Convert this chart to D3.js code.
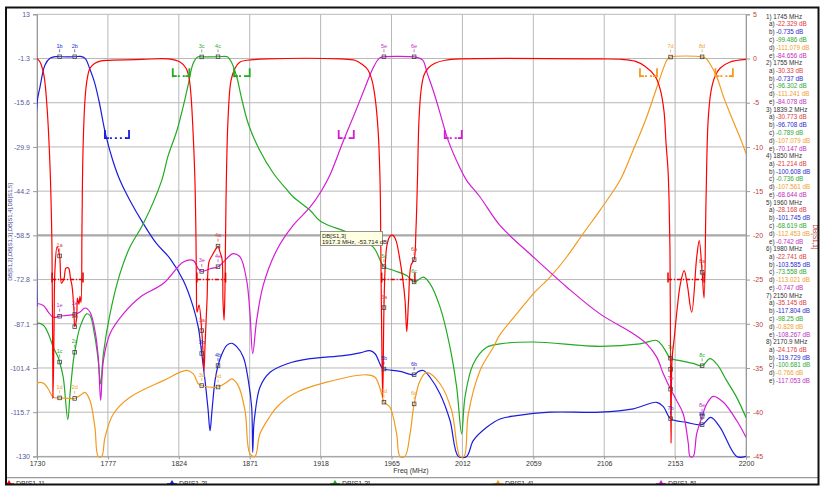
<!DOCTYPE html>
<html><head><meta charset="utf-8">
<script src="https://cdn.jsdelivr.net/npm/d3@7"></script>
<style>body{margin:0;background:#fff;} svg{display:block;font-family:"Liberation Sans",Arial,sans-serif;}</style>
</head><body><svg id="c" width="825" height="497"></svg>
<script>
// ---------------- DATA ----------------
const xTicks = [1730,1777,1824,1871,1918,1965,2012,2059,2106,2153,2200];
const leftTickVals = [13,-1.3,-15.6,-29.9,-44.2,-58.5,-72.8,-87.1,-101.4,-115.7,-130];
const rightTickVals = [5,0,-5,-10,-15,-20,-25,-30,-35,-40,-45];
const seriesNames = ["DB[S1,1]","DB[S1,2]","DB[S1,3]","DB[S1,4]","DB[S1,5]"];

// DB[S1,1] (right axis) [MHz, dB]
const s11 = [[1730,0],[1732,-0.4],[1734.6,-1.9],[1736.6,-5.4],[1738.6,-12.1],[1739.9,-21],[1740.6,-38.4],[1741.3,-30.7],[1741.9,-23.9],[1743.3,-21.3],[1745,-22.329],[1746.2,-25.4],[1747.9,-24.9],[1749.2,-23.7],[1750.9,-23.7],[1752.2,-24.9],[1753.2,-25.7],[1754.5,-28.5],[1755,-30.33],[1756.2,-29.5],[1756.8,-27.1],[1757.8,-27.8],[1758.5,-26.9],[1759.2,-27.6],[1759.8,-19.4],[1760.5,-10.4],[1761.8,-4.7],[1763.1,-2.5],[1765.1,-1.1],[1768.4,-0.54],[1771.8,-0.3],[1778,-0.2],[1800,-0.1],[1816.8,-0.05],[1824.8,-0.4],[1828.8,-1.1],[1830.8,-2.2],[1832.1,-4.2],[1833.4,-8.1],[1834.7,-13.8],[1835.4,-20.6],[1835.7,-26.2],[1836.1,-28.7],[1837.4,-27.9],[1839.2,-30.773],[1840,-33],[1840.7,-35.3],[1841.4,-32.4],[1842.7,-27.4],[1844,-23],[1846,-22.3],[1848,-21.7],[1850,-21.214],[1851.3,-21.9],[1852.6,-22.6],[1853.3,-27.4],[1854,-29.6],[1854.6,-26.2],[1855.3,-16],[1856.6,-7],[1858.6,-2.5],[1861.3,-1.1],[1864.6,-0.4],[1869.3,-0.2],[1882.5,-0.05],[1930.9,-0.05],[1940.8,-0.2],[1945.5,-0.66],[1949.4,-1.3],[1952.1,-2.5],[1954.1,-4.4],[1956.1,-8.1],[1957.4,-13.8],[1958,-22.8],[1958.7,-34.1],[1959.2,-38.3],[1959.7,-31.9],[1960,-28.168],[1960.7,-24],[1962,-21.1],[1964,-20.1],[1966,-20],[1968,-20.6],[1970.6,-22.8],[1972.6,-25.1],[1974,-27.4],[1975.1,-30.9],[1976.3,-27.4],[1977.9,-23.4],[1980,-22.741],[1981.2,-19.4],[1982.2,-13.8],[1983.2,-7],[1984.6,-3.6],[1986.5,-1.9],[1989.2,-1.1],[1993.8,-0.54],[2000.5,-0.2],[2010.4,-0.05],[2103.2,-0.05],[2117.8,-0.1],[2126.4,-0.3],[2133,-0.88],[2139.7,-2],[2143,-3.4],[2145.6,-5.9],[2147,-9.6],[2148.3,-12.6],[2149,-16],[2149.6,-21.7],[2150,-35.145],[2150.3,-43.5],[2151,-34],[2152.5,-31.5],[2154.5,-28.1],[2156.5,-25.5],[2159,-24],[2161,-25.5],[2164,-28.7],[2167.3,-22.5],[2169,-20.6],[2170.9,-24.176],[2172.2,-27.1],[2173.5,-16],[2174.9,-7],[2176.9,-3.6],[2179.5,-2],[2182.8,-1.1],[2189.5,-0.4],[2200,-0.1]];

// DB[S1,2]
const s12 = [[1730,-81.5],[1730,-16],[1732,-10.5],[1735.3,-3.4],[1738.6,-1.25],[1742,-0.7],[1745,-0.735],[1755,-0.737],[1758.8,-0.6],[1761.9,-1.25],[1764.9,-4.5],[1768,-8.8],[1771,-14.8],[1775.6,-26.1],[1780.2,-34.2],[1785,-40.7],[1791.6,-47.2],[1800.5,-54.7],[1809.3,-61.2],[1818.2,-66],[1827,-73.1],[1833.6,-81.7],[1836.9,-88.2],[1839.2,-96.708],[1841.4,-105.5],[1843.4,-114.8],[1844.7,-121.7],[1846,-115.2],[1848,-105.5],[1850,-100.608],[1852.6,-96.9],[1855.8,-94.1],[1859.1,-93.4],[1862.4,-94.5],[1866.8,-97.9],[1870.1,-105.5],[1872.3,-114.1],[1873,-128.7],[1873.7,-120],[1874.5,-116.3],[1877.8,-107.6],[1884.5,-102.8],[1895.5,-100.1],[1911,-98.4],[1933,-97.4],[1944.1,-96.5],[1950.7,-95.8],[1954.1,-96.8],[1958.5,-101.2],[1960,-101.745],[1970.6,-102.5],[1980,-103.585],[1982.6,-102.6],[1986.1,-102.2],[1990.5,-104.4],[1997.2,-109.8],[2003.8,-118.4],[2009.3,-130],[2014.8,-130],[2019.2,-124.9],[2028.1,-120.6],[2036.9,-117.9],[2048,-116.8],[2070.1,-115.7],[2103.2,-115.7],[2125.3,-114.6],[2140.8,-112.5],[2145.2,-113.9],[2150,-117.804],[2160.7,-119],[2170.9,-119.729],[2176.6,-117.4],[2182.8,-120.6],[2193.8,-130],[2200,-130]];

// DB[S1,3]
const s13 = [[1730,-100.6],[1730,-87.1],[1734.2,-87.6],[1737.5,-90.3],[1740.8,-94.7],[1744.1,-98],[1745,-99.486],[1747.4,-104.4],[1750.4,-118.1],[1751.9,-109.8],[1754.1,-99],[1755,-96.302],[1758.5,-88.2],[1762.9,-83.9],[1765.1,-84.4],[1768.4,-91.4],[1770.6,-99],[1772.2,-106.6],[1774,-96.8],[1778.4,-83.9],[1785,-70.9],[1791.6,-62.3],[1800.5,-54.7],[1812.7,-40.7],[1816.7,-33.1],[1822.8,-24.5],[1827.4,-15.8],[1830.4,-9.4],[1833.5,-2.9],[1836.5,-0.8],[1839.2,-0.789],[1850,-0.736],[1856.3,-0.75],[1859.3,-2.9],[1862.4,-7.2],[1865.4,-13.7],[1870,-22.3],[1877.6,-31],[1886.8,-38.5],[1895.9,-43.9],[1899.9,-46.1],[1911,-50.4],[1917.3,-53.714],[1922,-55],[1937.5,-57.9],[1952.9,-62.3],[1960,-68.619],[1966.2,-69.8],[1975.1,-71.5],[1980,-73.558],[1986.1,-72],[1990.5,-74.1],[1997.2,-81.7],[2003.8,-94.7],[2008.2,-107.6],[2011.5,-122.7],[2013.7,-110.9],[2019.2,-100.1],[2028.1,-94.7],[2036.9,-93.6],[2059,-93],[2103.2,-94.4],[2129.7,-93.6],[2140.8,-92.5],[2145.2,-94.7],[2150,-98.25],[2156.3,-99],[2165,-99.9],[2170.9,-100.681],[2176.1,-98.4],[2180.6,-100.1],[2187.2,-105.5],[2193.8,-110.9],[2200,-117.4]];

// DB[S1,4]
const s14 = [[1730,-118.4],[1730,-106.5],[1734.2,-106.3],[1737.5,-108.2],[1740.8,-110.9],[1745,-111.079],[1755,-111.241],[1758.5,-110.3],[1761.8,-109.3],[1765.1,-111.9],[1768.4,-120.6],[1770.6,-130],[1772.9,-130],[1775.1,-123.8],[1780.6,-116.3],[1791.6,-110.9],[1813.7,-105.5],[1829.2,-102.2],[1833.6,-103.3],[1836.9,-106.5],[1839.2,-107.079],[1850,-107.561],[1855.8,-106],[1859.1,-104.9],[1863.4,-107.1],[1867.9,-115.2],[1871.2,-129.2],[1874.5,-130],[1877.8,-122.7],[1884.5,-117],[1888.9,-114.1],[1899.9,-109.8],[1922,-106],[1948.6,-103.6],[1954.1,-104.4],[1958.5,-109.8],[1960,-112.453],[1964,-114.1],[1968.4,-122.7],[1970.6,-130],[1973.9,-130],[1977.3,-122.7],[1980,-113.021],[1983.9,-105.5],[1988.3,-102.8],[1997.2,-106.5],[2004.9,-115.2],[2010.4,-130],[2013.1,-130],[2015.9,-116.3],[2023.7,-102.2],[2032.5,-94.7],[2036.9,-90.6],[2048,-83.9],[2059,-77.4],[2070.1,-72],[2081.1,-65.5],[2092.1,-57.9],[2103.2,-50.4],[2116.5,-40.7],[2124.3,-32],[2133.4,-21.2],[2141,-10.5],[2145.6,-4],[2148,-1.5],[2150,-0.828],[2170.9,-0.766],[2173.5,-1.3],[2176,-2.9],[2180.6,-7.2],[2185.1,-13.7],[2191.2,-21.2],[2196.7,-27.7],[2200,-32]];

// DB[S1,5]
const s15 = [[1730,-87.5],[1730,-80.8],[1734.2,-81.2],[1737.5,-83.3],[1740.8,-85],[1745,-84.656],[1749.7,-84.4],[1755,-84.078],[1758.5,-83.3],[1761.8,-82],[1765.1,-83.3],[1768.4,-89.3],[1770.6,-97.9],[1772.2,-111.9],[1774,-99],[1778.4,-90.3],[1787.2,-83.9],[1798.3,-78.5],[1813.7,-74.1],[1827,-67.1],[1833.6,-66.6],[1836.9,-69.3],[1839.2,-70.147],[1844.7,-69.3],[1850,-68.644],[1857.9,-65],[1860.1,-64.4],[1864.6,-65.5],[1869,-73.1],[1871.2,-83.9],[1873,-96.8],[1875.6,-86],[1880,-74.6],[1888.9,-63.3],[1899.9,-55.2],[1911,-49.4],[1918.8,-43.9],[1924.2,-39],[1932.4,-28.8],[1941.5,-18],[1947.6,-10.5],[1952.2,-5],[1956.8,-1.25],[1960,-0.742],[1980,-0.747],[1981.2,-0.85],[1985.7,-1.8],[1988.7,-6.1],[1993.3,-12.6],[1997.9,-20.2],[2002.5,-27.7],[2010.1,-36.4],[2014.8,-40.7],[2023.7,-46.1],[2036.9,-55.3],[2059,-65.5],[2081.1,-75.2],[2103.2,-83.9],[2125.3,-90.3],[2134.2,-93.6],[2140.8,-97.9],[2145.2,-103.3],[2150,-108.267],[2154,-111.9],[2158.4,-116.3],[2161.8,-126],[2162.9,-130],[2165,-130],[2167.3,-122.7],[2170.9,-117.053],[2174,-113],[2178.3,-110.6],[2185,-112.5],[2193.8,-118.4],[2200,-123.8]];

// markers
const markerFreqs = [1745,1755,1839.2,1850,1960,1980,2150,2170.9];
const markerA = [-22.329,-30.33,-30.773,-21.214,-28.168,-22.741,-35.145,-24.176];
const markerB = [-0.735,-0.737,-96.708,-100.608,-101.745,-103.585,-117.804,-119.729];
const markerC = [-99.486,-96.302,-0.789,-0.736,-68.619,-73.558,-98.25,-100.681];
const markerD = [-111.079,-111.241,-107.079,-107.561,-112.453,-113.021,-0.828,-0.766];
const markerE = [-84.656,-84.078,-70.147,-68.644,-0.742,-0.747,-108.267,-117.053];

// spec masks [startMHz, endMHz], levels on right axis
const redMasks = [[1740,1760.5],[1836,1855],[1958.5,1980.5],[2148.3,2172.2]];
const redMaskLevel = -25;
const blueMasks = [[1775,1791]];
const greenMasks = [[1820,1831],[1860.6,1871]];
const magentaMasks = [[1930,1940],[2000.3,2011.6]];
const orangeMasks = [[2129.7,2141],[2179.7,2191.3]];
const maskLevelStop = -9, maskLevelPass = -2;

// ---------------- DRAW ----------------
const col = {a:"#ff0000", b:"#1c1cdc", c:"#22aa22", d:"#f39a1e", e:"#d41cd4"};
const txtCol = {a:"#e03a3a", b:"#2a2ad0", c:"#2fa82f", d:"#f0a030", e:"#c030c0"};
const svg = d3.select('#c');
const x = d3.scaleLinear([1730,2200],[37,746]);
const yL = d3.scaleLinear([-130,13],[456.4,14.3]);
const yR = d3.scaleLinear([-45,5],[456.4,14.3]);

svg.append('rect').attr('width',825).attr('height',497).attr('fill','#fff');

// grid
const g = svg.append('g');
g.selectAll('line.v').data(xTicks).join('line')
  .attr('x1',d=>x(d)).attr('x2',d=>x(d)).attr('y1',yL(13)).attr('y2',yL(-130))
  .attr('stroke','#b8b8b8').attr('stroke-width',1);
g.selectAll('line.h').data(leftTickVals).join('line')
  .attr('x1',x(1730)).attr('x2',x(2200)).attr('y1',d=>yL(d)).attr('y2',d=>yL(d))
  .attr('stroke',d=>d===-58.5?'#a8a8a8':'#b8b8b8').attr('stroke-width',d=>d===-58.5?2.2:1);

// axes
const axL = svg.append('g').attr('transform',`translate(${x(1730)},0)`)
  .call(d3.axisLeft(yL).tickValues(leftTickVals).tickSize(4).tickFormat(d=>String(d)));
axL.select('.domain').attr('stroke','#999');
axL.selectAll('.tick line').attr('stroke','#999');
axL.selectAll('text').attr('fill','#5a5aa0').attr('font-size',7).attr('font-family','Liberation Sans, Arial');

const axR = svg.append('g').attr('transform',`translate(${x(2200)},0)`)
  .call(d3.axisRight(yR).tickValues(rightTickVals).tickSize(4).tickFormat(d=>String(d)));
axR.select('.domain').attr('stroke','#999');
axR.selectAll('.tick line').attr('stroke','#999');
axR.selectAll('text').attr('fill','#c04040').attr('font-size',7).attr('font-family','Liberation Sans, Arial');

const axB = svg.append('g').attr('transform',`translate(0,${yL(-130)})`)
  .call(d3.axisBottom(x).tickValues(xTicks).tickSize(3).tickFormat(d=>String(d)));
axB.select('.domain').attr('stroke','#999');
axB.selectAll('.tick line').attr('stroke','#999');
axB.selectAll('text').attr('fill','#333').attr('font-size',7).attr('font-family','Liberation Sans, Arial').attr('dy','0.5em');

svg.append('text').attr('x',411).attr('y',473).attr('text-anchor','middle')
  .attr('font-size',7).attr('fill','#333').text('Freq (MHz)');
svg.append('text').attr('transform','translate(12,232) rotate(-90)').attr('text-anchor','middle')
  .attr('font-size',5.8).attr('fill','#3c3c8c').text('DB[S1,2],DB[S1,3],DB[S1,4],DB[S1,5]');
svg.append('text').attr('transform','translate(813,237) rotate(90)').attr('text-anchor','middle')
  .attr('font-size',6.3).attr('fill','#c04040').text('DB[S1,1]');

// clip
svg.append('clipPath').attr('id','pc').append('rect')
  .attr('x',x(1730)).attr('y',yL(13)).attr('width',x(2200)-x(1730)).attr('height',yL(-130)-yL(13)+1.5);
const plot = svg.append('g').attr('clip-path','url(#pc)');

const lineL = d3.line().x(d=>x(d[0])).y(d=>yL(d[1])).curve(d3.curveCatmullRom.alpha(0.5));
const lineR = d3.line().x(d=>x(d[0])).y(d=>yR(d[1])).curve(d3.curveCatmullRom.alpha(0.5));

function bracket(sel, masks, level, color){
  masks.forEach(m=>{
    const x0=x(m[0]), x1=x(m[1]), yy=yR(level);
    sel.append('line').attr('x1',x0).attr('x2',x1).attr('y1',yy).attr('y2',yy)
      .attr('stroke',color).attr('stroke-width',1.8).attr('stroke-dasharray','2,3');
    [x0,x1].forEach(xx=>sel.append('line').attr('x1',xx).attr('x2',xx).attr('y1',yy+1).attr('y2',yy-8)
      .attr('stroke',color).attr('stroke-width',1.8));
    sel.append('line').attr('x1',x0).attr('x2',x0+4).attr('y1',yy).attr('y2',yy).attr('stroke',color).attr('stroke-width',1.8);
    sel.append('line').attr('x1',x1-4).attr('x2',x1).attr('y1',yy).attr('y2',yy).attr('stroke',color).attr('stroke-width',1.8);
  });
}

const seriesL = [[s12,col.b],[s13,col.c],[s14,col.d],[s15,col.e]];
seriesL.forEach(([d,c])=>plot.append('path').attr('d',lineL(d)).attr('fill','none').attr('stroke',c).attr('stroke-width',1.2));
plot.append('path').attr('d',lineR(s11)).attr('fill','none').attr('stroke',col.a).attr('stroke-width',1.2);

bracket(plot, blueMasks, maskLevelStop, col.b);
bracket(plot, magentaMasks, maskLevelStop, col.e);
bracket(plot, greenMasks, maskLevelPass, col.c);
bracket(plot, orangeMasks, maskLevelPass, col.d);
redMasks.forEach(m=>{
  const x0=x(m[0]), x1=x(m[1]), yy=yR(redMaskLevel);
  plot.append('line').attr('x1',x0).attr('x2',x1).attr('y1',yy).attr('y2',yy)
    .attr('stroke','#e00000').attr('stroke-width',1.5).attr('stroke-dasharray','4,2,1,2');
  [x0,x1].forEach(xx=>plot.append('line').attr('x1',xx).attr('x2',xx).attr('y1',yy+3).attr('y2',yy-7)
    .attr('stroke','#e00000').attr('stroke-width',1.5));
});

// markers
const mk = svg.append('g');
const mSets = [['a',markerA,yR],['b',markerB,yL],['c',markerC,yL],['d',markerD,yL],['e',markerE,yL]];
mSets.forEach(([k,vals,ys])=>{
  vals.forEach((v,i)=>{
    const px=x(markerFreqs[i]), py=ys(v);
    mk.append('text').attr('x',px).attr('y',py-9).attr('text-anchor','middle')
      .attr('font-size',5.5).attr('fill',txtCol[k]).text((i+1)+k);
    mk.append('line').attr('x1',px).attr('x2',px).attr('y1',py-7.5).attr('y2',py-4.5).attr('stroke',txtCol[k]).attr('stroke-width',0.7);
    mk.append('rect').attr('x',px-1.8).attr('y',py-1.8).attr('width',3.6).attr('height',3.6)
      .attr('fill','none').attr('stroke','#444').attr('stroke-width',0.8);
  });
});

// tooltip
const tt = svg.append('g');
tt.append('rect').attr('x',320.5).attr('y',231.5).attr('width',62).attr('height',14)
  .attr('fill','#ffffe1').attr('stroke','#7a7a7a').attr('stroke-width',0.8);
tt.append('text').attr('x',322).attr('y',237.6).attr('font-size',6).attr('fill','#222').text('DB[S1,3]');
tt.append('text').attr('x',322).attr('y',244).attr('font-size',6).attr('fill','#222').text('1917.3 MHz, -53.714 dB');

// marker readout panel
const panel = svg.append('g').attr('font-size',6.3);
const cols = ['a','b','c','d','e'];
const vals = [markerA,markerB,markerC,markerD,markerE];
markerFreqs.forEach((f,i)=>{
  const y0 = 18.5 + i*46.5;
  panel.append('text').attr('x',766).attr('y',y0).attr('fill','#333').text(`${i+1}) ${f} MHz`);
  cols.forEach((k,j)=>{
    const yy = y0 + 7.8*(j+1);
    panel.append('text').attr('x',769).attr('y',yy).attr('fill','#333').text(k+')');
    panel.append('text').attr('x',776).attr('y',yy).attr('fill',txtCol[k]).text(`${vals[j][i]} dB`);
  });
});

// legend (clipped by frame)
svg.append('clipPath').attr('id','lc').append('rect').attr('x',6).attr('y',478).attr('width',812).attr('height',6);
const lg = svg.append('g').attr('clip-path','url(#lc)');
const lgX = [9,172,335,498,661];
const lgCols = [col.a,col.b,col.c,col.d,col.e];
seriesNames.forEach((n,i)=>{
  lg.append('line').attr('x1',lgX[i]-5).attr('x2',lgX[i]+5).attr('y1',484).attr('y2',484).attr('stroke',lgCols[i]).attr('stroke-width',1.5);
  lg.append('path').attr('d',d3.symbol(d3.symbolTriangle,22)()).attr('transform',`translate(${lgX[i]},${484})`).attr('fill',lgCols[i]);
  lg.append('text').attr('x',lgX[i]+7).attr('y',486).attr('font-size',7).attr('fill','#333').text(n);
});

// frame
svg.append('line').attr('x1',6).attr('x2',818).attr('y1',477.7).attr('y2',477.7).attr('stroke','#999').attr('stroke-width',1.2);
svg.append('rect').attr('x',6).attr('y',7.5).attr('width',812.5).attr('height',477).attr('fill','none').attr('stroke','#111').attr('stroke-width',2);
</script></body></html>
